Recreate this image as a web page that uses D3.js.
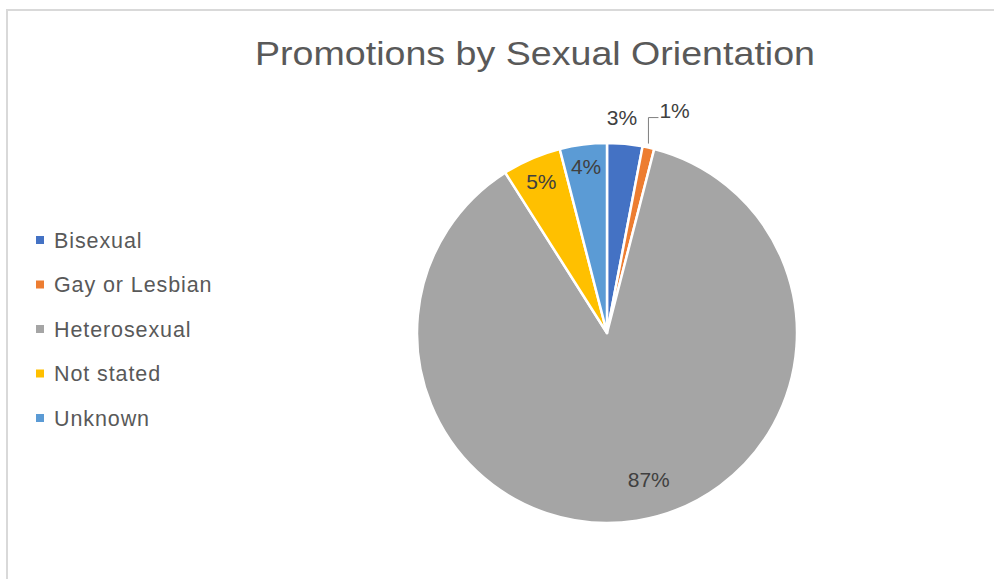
<!DOCTYPE html>
<html>
<head>
<meta charset="utf-8">
<script src="https://cdn.jsdelivr.net/npm/d3@7"></script>
<style>
  html, body { margin: 0; padding: 0; background: #fff; }
  svg { display: block; font-family: "Liberation Sans", Arial, Helvetica, sans-serif; }
</style>
</head>
<body>
<svg id="chart" width="994" height="579"></svg>
<script>
// Promotions broken down by sexual orientation (percent of total)
const categories = ["Bisexual", "Gay or Lesbian", "Heterosexual", "Not stated", "Unknown"];
const values = [3, 1, 87, 5, 4];
const colors = ["#4472C4", "#ED7D31", "#A5A5A5", "#FFC000", "#5B9BD5"];
const titleText = "Promotions by Sexual Orientation";

const svg = d3.select("#chart");

// chart area frame
svg.append("path")
  .attr("d", "M7,579 V10 H994")
  .attr("fill", "none")
  .attr("stroke", "#d9d9d9")
  .attr("stroke-width", 2);

svg.append("text")
  .attr("x", 535)
  .attr("y", 65)
  .attr("text-anchor", "middle")
  .attr("font-size", 33)
  .attr("fill", "#595959")
  .attr("textLength", 560)
  .attr("lengthAdjust", "spacingAndGlyphs")
  .text(titleText);

const cx = 607, cy = 333, radius = 190;

const pie = d3.pie().sort(null).value(d => d)(values);
const arc = d3.arc().innerRadius(0).outerRadius(radius);

const g = svg.append("g").attr("transform", `translate(${cx},${cy})`);

g.selectAll("path.slice")
  .data(pie)
  .join("path")
  .attr("class", "slice")
  .attr("d", arc)
  .attr("fill", (d, i) => colors[i])
  .attr("stroke", "#fff")
  .attr("stroke-width", 2.5)
  .attr("stroke-linejoin", "round");

const fmt = v => v + "%";
const labelSize = 21;

function addLabel(x, y, txt, anchor) {
  g.append("text")
    .attr("x", x)
    .attr("y", y)
    .attr("dy", "0.35em")
    .attr("text-anchor", anchor || "middle")
    .attr("font-size", labelSize)
    .attr("fill", "#404040")
    .text(txt);
}

// labels inside the larger slices (radius fraction, extra offset)
const inside = { 2: [0.8, 18, -3], 3: [0.87, 0, 0], 4: [0.88, 0, 0] };
pie.forEach((d, i) => {
  if (!inside[i]) return;
  const [f, ox, oy] = inside[i];
  const la = d3.arc().innerRadius(radius * f).outerRadius(radius * f);
  const [x, y] = la.centroid(d);
  addLabel(x + ox, y + oy, fmt(values[i]));
});

// small slices: labels outside the pie
const outer = d3.arc().innerRadius(radius).outerRadius(radius);
{
  const [x, y] = outer.centroid(pie[0]);
  addLabel(x - 3, y - 26, fmt(values[0]));
}
{
  const [x, y] = outer.centroid(pie[1]);
  const ly = y - 30;
  g.append("path")
    .attr("d", `M${x},${y - 4} L${x},${ly} H${x + 10}`)
    .attr("fill", "none")
    .attr("stroke", "#7f7f7f")
    .attr("stroke-width", 1);
  addLabel(x + 11, ly - 7, fmt(values[1]), "start");
}

// legend
const legend = svg.append("g").attr("transform", "translate(36,240)");
const rows = legend.selectAll("g")
  .data(categories)
  .join("g")
  .attr("transform", (d, i) => `translate(0,${i * 44.5})`);
rows.append("rect")
  .attr("x", 0).attr("y", -4)
  .attr("width", 8).attr("height", 8)
  .attr("fill", (d, i) => colors[i]);
rows.append("text")
  .attr("x", 18)
  .attr("y", 0)
  .attr("dy", "0.35em")
  .attr("font-size", 21.5)
  .attr("letter-spacing", 0.9)
  .attr("fill", "#595959")
  .text(d => d);
</script>
</body>
</html>
